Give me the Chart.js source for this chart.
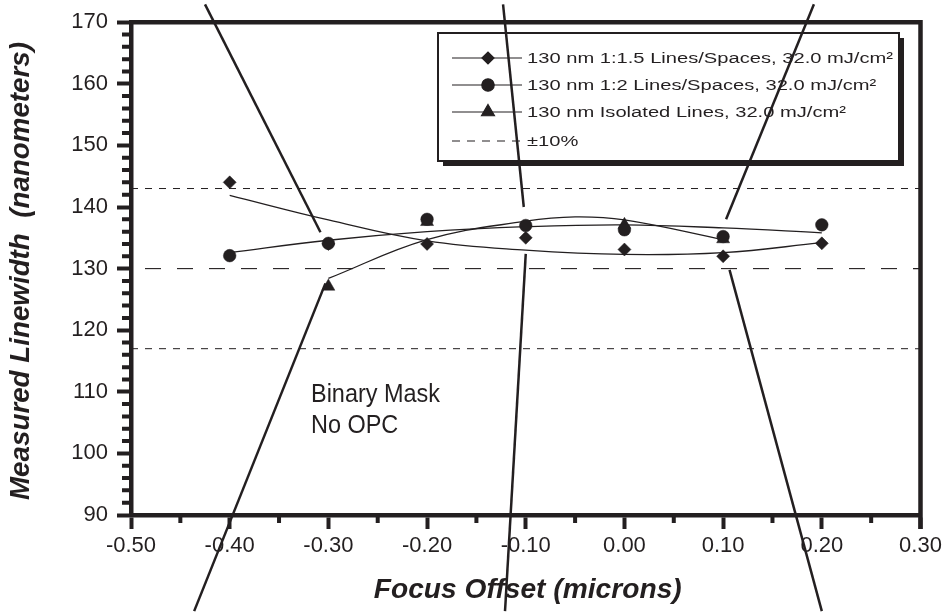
<!DOCTYPE html>
<html>
<head>
<meta charset="utf-8">
<script src="https://cdn.jsdelivr.net/npm/chart.js"></script>
<style>
  html, body { margin: 0; padding: 0; background: #fff; }
  canvas { display: block; }
</style>
</head>
<body>
<canvas id="focusChart" width="947" height="613"></canvas>
<script>
// focus offsets (microns)
const focusOffsets = [-0.4, -0.3, -0.2, -0.1, 0.0, 0.1, 0.2];

// measured linewidth (nm)
const lines15Values = [144, 134, 134, 135, 133.1, 132, 134.1];
const lines2Values = [132.1, 134.1, 138, 137, 136.3, 135.2, 137.1];
const isoOffsets = [-0.3, -0.2, 0.0, 0.1];
const isoValues = [127.1, 137.6, 137.1, 134.8];

// fitted curves
const fit15Values = [141.9, 137.9, 134.5, 133.0, 132.3, 132.6, 134.2];
const fit2Values = [132.6, 134.6, 136.0, 136.8, 137.1, 136.6, 135.8];
const fitIsoOffsets = [-0.3, -0.2, -0.1, -0.05, 0.0, 0.1];
const fitIsoValues = [128.4, 134.7, 137.7, 138.4, 137.9, 134.7];

// nominal 130 nm and the ±10% band
const nominalValue = 130;
const toleranceValues = [143, 117];

// axes
const xTickValues = [-0.5, -0.4, -0.3, -0.2, -0.1, 0.0, 0.1, 0.2, 0.3];
const xTickLabels = ['-0.50', '-0.40', '-0.30', '-0.20', '-0.10', '0.00', '0.10', '0.20', '0.30'];
const yTickValues = [90, 100, 110, 120, 130, 140, 150, 160, 170];

// callout lines (pointing to images outside the plot), in data units
const calloutLines = [
    [[-0.425, 172.9], [-0.308, 135.9]],
    [[-0.123, 172.9], [-0.102, 140.0]],
    [[0.192, 172.9], [0.103, 138.0]],
    [[-0.303, 127.6], [-0.436, 74.4]],
    [[-0.100, 132.4], [-0.121, 74.4]],
    [[0.1065, 129.8], [0.200, 74.4]]
];

const legendItems = [
    { text: '130 nm 1:1.5 Lines/Spaces, 32.0 mJ/cm²', style: 'rectRot', radius: 6 },
    { text: '130 nm 1:2 Lines/Spaces, 32.0 mJ/cm²', style: 'circle', radius: 6.2 },
    { text: '130 nm Isolated Lines, 32.0 mJ/cm²', style: 'triangle', radius: 7.5 },
    { text: '±10%', style: 'dash' }
];

const ink = '#231f20';
const sans = '"Liberation Sans", Arial, Helvetica, sans-serif';

function toPoints(xs, ys) {
    return xs.map((x, i) => ({ x: x, y: ys[i] }));
}

function hLine(value) {
    return [{ x: -0.5, y: value }, { x: 0.3, y: value }];
}

// text squeezed/stretched to a measured width
function fitText(ctx, text, x, y, font, width, align) {
    ctx.save();
    ctx.font = font;
    const sx = width ? width / ctx.measureText(text).width : 1;
    ctx.translate(x, y);
    ctx.scale(sx, 1);
    ctx.textAlign = align || 'left';
    ctx.fillText(text, 0, 0);
    ctx.restore();
    return sx;
}

function marker(ctx, style, radius, x, y) {
    if (Chart.helpers && Chart.helpers.drawPoint) {
        Chart.helpers.drawPoint(ctx, { pointStyle: style, radius: radius, rotation: 0, borderWidth: 1 }, x, y);
        return;
    }
    ctx.beginPath();
    ctx.arc(x, y, radius, 0, Math.PI * 2);
    ctx.fill();
}

function drawLegend(ctx) {
    const left = 438, top = 33, w = 461, h = 128;
    ctx.save();
    ctx.fillStyle = ink;
    ctx.fillRect(left + 5, top + 5, w, h);
    ctx.fillStyle = '#fff';
    ctx.fillRect(left, top, w, h);
    ctx.strokeStyle = ink;
    ctx.lineWidth = 2;
    ctx.strokeRect(left, top, w, h);

    const rowY = [58, 85, 112, 141];
    const font = '15.5px ' + sans;
    ctx.font = font;
    const sx = 366 / ctx.measureText(legendItems[0].text).width;

    legendItems.forEach((item, i) => {
        const y = rowY[i];
        ctx.fillStyle = ink;
        ctx.strokeStyle = ink;
        ctx.lineWidth = 1.2;
        ctx.setLineDash(item.style === 'dash' ? [8, 7] : []);
        ctx.beginPath();
        ctx.moveTo(452, y);
        ctx.lineTo(522, y);
        ctx.stroke();
        ctx.setLineDash([]);
        if (item.style !== 'dash') {
            marker(ctx, item.style, item.radius, 488, y);
        }
        ctx.save();
        ctx.font = font;
        ctx.textBaseline = 'middle';
        ctx.translate(527, y + 0.5);
        ctx.scale(sx, 1);
        ctx.fillText(item.text, 0, 0);
        ctx.restore();
    });
    ctx.restore();
}

const decorPlugin = {
    id: 'decor',
    afterDatasetsDraw(chart) {
        const ctx = chart.ctx;
        const xs = chart.scales.x;
        const ys = chart.scales.y;
        const area = chart.chartArea;

        drawLegend(ctx);

        // note inside the plot
        ctx.save();
        ctx.fillStyle = ink;
        const sx = fitText(ctx, 'Binary Mask', area.left + 180, 401.5, '26px ' + sans, 129);
        ctx.font = '26px ' + sans;
        ctx.translate(area.left + 180, 433);
        ctx.scale(sx, 1);
        ctx.fillText('No OPC', 0, 0);
        ctx.restore();

        // callout lines
        ctx.save();
        ctx.strokeStyle = ink;
        ctx.lineWidth = 2.5;
        calloutLines.forEach(seg => {
            ctx.beginPath();
            ctx.moveTo(xs.getPixelForValue(seg[0][0]), ys.getPixelForValue(seg[0][1]));
            ctx.lineTo(xs.getPixelForValue(seg[1][0]), ys.getPixelForValue(seg[1][1]));
            ctx.stroke();
        });
        ctx.restore();
    },
    afterDraw(chart) {
        const ctx = chart.ctx;
        const xs = chart.scales.x;
        const ys = chart.scales.y;
        const area = chart.chartArea;
        ctx.save();
        ctx.strokeStyle = ink;

        // minor ticks
        ctx.lineWidth = 4;
        ctx.beginPath();
        for (let v = 92; v < 170; v += 2) {
            if (v % 10 === 0) continue;
            const py = ys.getPixelForValue(v);
            ctx.moveTo(area.left - 9, py);
            ctx.lineTo(area.left, py);
        }
        for (let k = -9; k <= 5; k += 2) {
            const px = xs.getPixelForValue(k * 0.05);
            ctx.moveTo(px, area.bottom);
            ctx.lineTo(px, area.bottom + 8);
        }
        ctx.stroke();

        // top and right frame
        ctx.lineWidth = 4.5;
        ctx.beginPath();
        ctx.moveTo(area.left - 2, area.top);
        ctx.lineTo(area.right + 2.25, area.top);
        ctx.moveTo(area.right, area.top - 2.25);
        ctx.lineTo(area.right, area.bottom + 14);
        ctx.stroke();

        // axis titles
        ctx.fillStyle = ink;
        ctx.textBaseline = 'middle';
        fitText(ctx, 'Focus Offset (microns)', (area.left + area.right) / 2 + 2, 590,
            'italic bold 28px ' + sans, 308, 'center');
        ctx.save();
        ctx.translate(21, 271);
        ctx.rotate(-Math.PI / 2);
        fitText(ctx, 'Measured Linewidth  (nanometers)', 0, 0, 'italic bold 28px ' + sans, 458, 'center');
        ctx.restore();
        ctx.restore();
    }
};

const lineBase = { showLine: true, pointRadius: 0, borderColor: ink, fill: false };

const datasets = [
    Object.assign({ data: toPoints(focusOffsets, lines15Values), showLine: false,
        pointStyle: 'rectRot', pointRadius: 6.5, backgroundColor: ink, borderColor: ink, borderWidth: 0.5 }),
    Object.assign({ data: toPoints(focusOffsets, lines2Values), showLine: false,
        pointStyle: 'circle', pointRadius: 6.3, backgroundColor: ink, borderColor: ink, borderWidth: 0.5 }),
    Object.assign({ data: toPoints(isoOffsets, isoValues), showLine: false,
        pointStyle: 'triangle', pointRadius: 7.5, backgroundColor: ink, borderColor: ink, borderWidth: 0.5 }),
    Object.assign({}, lineBase, { data: toPoints(focusOffsets, fit15Values), borderWidth: 1.3, tension: 0.4 }),
    Object.assign({}, lineBase, { data: toPoints(focusOffsets, fit2Values), borderWidth: 1.3, tension: 0.4 }),
    Object.assign({}, lineBase, { data: toPoints(fitIsoOffsets, fitIsoValues), borderWidth: 1.3, tension: 0.4 }),
    Object.assign({}, lineBase, { data: hLine(nominalValue), borderWidth: 1.1, borderDash: [16, 16], borderDashOffset: 18 }),
    Object.assign({}, lineBase, { data: hLine(toleranceValues[0]), borderWidth: 1, borderDash: [7, 7] }),
    Object.assign({}, lineBase, { data: hLine(toleranceValues[1]), borderWidth: 1, borderDash: [7, 7] })
];

const axisCommon = {
    type: 'linear',
    border: { display: true, color: ink, width: 4.5 },
    grid: { drawOnChartArea: false, drawTicks: true, tickLength: 14, tickWidth: 4, tickColor: ink },
    ticks: { color: ink, font: { family: sans, size: 22 }, autoSkip: false, maxRotation: 0 }
};

new Chart(document.getElementById('focusChart'), {
    type: 'scatter',
    data: { datasets: datasets },
    options: {
        responsive: false,
        animation: false,
        devicePixelRatio: 1,
        layout: { padding: { left: 0, top: 18, right: 26.5, bottom: 0 } },
        plugins: { legend: { display: false }, tooltip: { enabled: false } },
        scales: {
            x: Object.assign({}, axisCommon, {
                min: -0.5, max: 0.3,
                ticks: Object.assign({}, axisCommon.ticks, {
                    padding: 4,
                    callback: (v, i) => xTickLabels[i]
                }),
                afterBuildTicks: scale => { scale.ticks = xTickValues.map(v => ({ value: v })); },
                afterFit: scale => { scale.height = 98; }
            }),
            y: Object.assign({}, axisCommon, {
                min: 90, max: 170,
                ticks: Object.assign({}, axisCommon.ticks, { padding: 9 }),
                afterBuildTicks: scale => { scale.ticks = yTickValues.map(v => ({ value: v })); },
                afterFit: scale => { scale.width = 131; }
            })
        }
    },
    plugins: [decorPlugin]
});
</script>
</body>
</html>
